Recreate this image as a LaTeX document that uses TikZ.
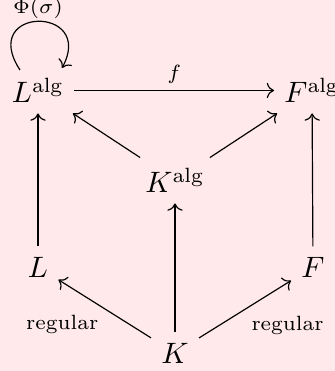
\documentclass[tikz,border=0pt]{standalone}
\usepackage{amsmath}
\usetikzlibrary{arrows.meta}
\definecolor{bg}{RGB}{255,233,235}
\begin{document}
\begin{tikzpicture}[x=0.339pt,y=-0.339pt,
  obj/.style={inner sep=0.333em, anchor=base},
  arr/.style={-{Computer Modern Rightarrow}, line width=0.4pt},
  lab/.style={font=\scriptsize, inner sep=2pt}]
\fill[bg] (0,0) rectangle (335,371);
\useasboundingbox (0,0) rectangle (335,371);
\node[obj] (La) at (38,103) {$L^{\mathrm{alg}}$};
\node[obj] (Fa) at (312,103) {$F^{\mathrm{alg}}$};
\node[obj] (Ka) at (175,193) {$K^{\mathrm{alg}}$};
\node[obj] (L) at (38,277) {$L$};
\node[obj] (F) at (313,277) {$F$};
\node[obj] (K) at (175,363) {$K$};
\coordinate (ls) at (20,70);
\coordinate (le) at (62,68);
\draw[arr] (ls) .. controls (-22,6) and (96,5) .. (le);
\node[lab, anchor=base] (phi) at (38,14) {$\Phi(\sigma)$};
\draw[arr] (La) -- node[lab, above]{$f$} (Fa);
\draw[arr] (Ka) -- (La);
\draw[arr] (Ka) -- (Fa);
\draw[arr] (K) -- (Ka);
\draw[arr] (L) -- (La);
\draw[arr] (F) -- (Fa);
\draw[arr] (K) -- node[lab, anchor=north east]{regular} (L);
\draw[arr] (K) -- node[lab, anchor=north west]{regular} (F);
\end{tikzpicture}
\end{document}
